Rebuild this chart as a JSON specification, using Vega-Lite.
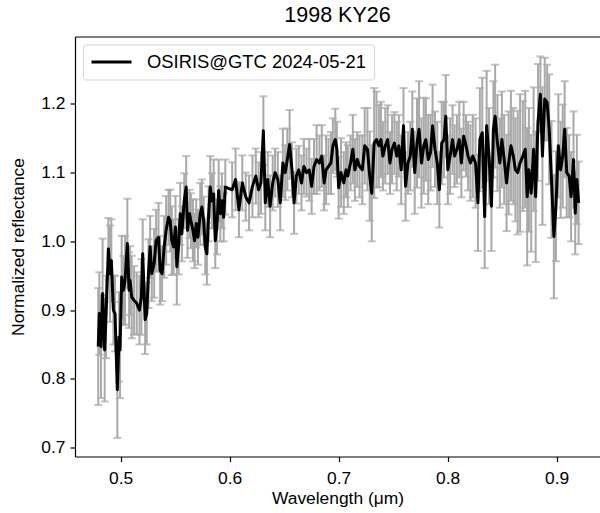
{
  "$schema": "https://vega.github.io/schema/vega-lite/v6.json",
  "width": 525,
  "height": 420,
  "autosize": {"type": "none"},
  "padding": {"left": 75, "top": 36.5, "right": 0, "bottom": 56.5},
  "title": {"text": "1998 KY26", "fontSize": 21.5, "fontWeight": "normal", "color": "black", "font": "Liberation Sans", "offset": 10, "anchor": "middle"},
  "data": {"values": [
    {"w":0.4794,"r":0.847,"e":0.085},{"w":0.4804,"r":0.895,"e":0.06},{"w":0.4819,"r":0.847,"e":0.075},{"w":0.4834,"r":0.924,"e":0.08},
    {"w":0.4853,"r":0.842,"e":0.075},{"w":0.4865,"r":0.890,"e":0.06},{"w":0.4887,"r":0.989,"e":0.045},{"w":0.4902,"r":0.953,"e":0.07},
    {"w":0.4914,"r":0.972,"e":0.06},{"w":0.4933,"r":0.900,"e":0.05},{"w":0.4948,"r":0.895,"e":0.055},{"w":0.4969,"r":0.784,"e":0.07},
    {"w":0.4985,"r":0.861,"e":0.065},{"w":0.4994,"r":0.842,"e":0.07},{"w":0.5009,"r":0.948,"e":0.06},{"w":0.5025,"r":0.929,"e":0.05},
    {"w":0.5040,"r":0.943,"e":0.065},{"w":0.5061,"r":0.997,"e":0.065},{"w":0.5077,"r":0.929,"e":0.055},{"w":0.5086,"r":0.943,"e":0.05},
    {"w":0.5101,"r":0.919,"e":0.06},{"w":0.5123,"r":0.914,"e":0.05},{"w":0.5147,"r":0.910,"e":0.045},{"w":0.5172,"r":0.900,"e":0.05},
    {"w":0.5190,"r":0.919,"e":0.055},{"w":0.5202,"r":0.982,"e":0.05},{"w":0.5224,"r":0.886,"e":0.05},{"w":0.5239,"r":0.895,"e":0.045},
    {"w":0.5255,"r":0.953,"e":0.05},{"w":0.5270,"r":0.992,"e":0.045},{"w":0.5285,"r":0.953,"e":0.04},{"w":0.5307,"r":0.968,"e":0.05},
    {"w":0.5325,"r":1.001,"e":0.045},{"w":0.5347,"r":1.006,"e":0.05},{"w":0.5362,"r":0.958,"e":0.05},{"w":0.5380,"r":0.953,"e":0.04},
    {"w":0.5399,"r":0.992,"e":0.045},{"w":0.5417,"r":1.016,"e":0.05},{"w":0.5439,"r":1.035,"e":0.04},{"w":0.5454,"r":1.030,"e":0.045},
    {"w":0.5469,"r":1.001,"e":0.05},{"w":0.5485,"r":0.992,"e":0.04},{"w":0.5503,"r":1.021,"e":0.045},{"w":0.5515,"r":0.963,"e":0.055},
    {"w":0.5531,"r":0.992,"e":0.04},{"w":0.5546,"r":1.040,"e":0.045},{"w":0.5561,"r":1.011,"e":0.04},{"w":0.5583,"r":1.059,"e":0.04},
    {"w":0.5601,"r":1.079,"e":0.045},{"w":0.5613,"r":1.016,"e":0.04},{"w":0.5632,"r":1.040,"e":0.035},{"w":0.5644,"r":1.030,"e":0.04},
    {"w":0.5663,"r":1.016,"e":0.045},{"w":0.5678,"r":1.001,"e":0.04},{"w":0.5693,"r":1.026,"e":0.035},{"w":0.5709,"r":1.006,"e":0.04},
    {"w":0.5730,"r":1.040,"e":0.045},{"w":0.5745,"r":1.050,"e":0.04},{"w":0.5761,"r":1.030,"e":0.035},{"w":0.5776,"r":0.992,"e":0.04},
    {"w":0.5791,"r":0.982,"e":0.045},{"w":0.5807,"r":1.040,"e":0.04},{"w":0.5822,"r":1.079,"e":0.045},{"w":0.5837,"r":1.059,"e":0.04},
    {"w":0.5853,"r":1.069,"e":0.05},{"w":0.5868,"r":1.001,"e":0.04},{"w":0.5883,"r":1.021,"e":0.04},{"w":0.5899,"r":1.074,"e":0.045},
    {"w":0.5914,"r":1.040,"e":0.04},{"w":0.5929,"r":1.059,"e":0.04},{"w":0.5945,"r":1.035,"e":0.035},{"w":0.5960,"r":1.079,"e":0.04},
    {"w":0.6023,"r":1.075,"e":0.04},{"w":0.6054,"r":1.090,"e":0.045},{"w":0.6085,"r":1.046,"e":0.04},{"w":0.6116,"r":1.085,"e":0.04},
    {"w":0.6147,"r":1.065,"e":0.035},{"w":0.6178,"r":1.056,"e":0.04},{"w":0.6209,"r":1.080,"e":0.045},{"w":0.6240,"r":1.095,"e":0.04},
    {"w":0.6265,"r":1.075,"e":0.04},{"w":0.6287,"r":1.085,"e":0.045},{"w":0.6309,"r":1.161,"e":0.05},{"w":0.6327,"r":1.056,"e":0.04},
    {"w":0.6349,"r":1.090,"e":0.04},{"w":0.6371,"r":1.051,"e":0.045},{"w":0.6395,"r":1.085,"e":0.04},{"w":0.6417,"r":1.100,"e":0.035},
    {"w":0.6442,"r":1.090,"e":0.04},{"w":0.6464,"r":1.056,"e":0.04},{"w":0.6488,"r":1.114,"e":0.05},{"w":0.6510,"r":1.100,"e":0.04},
    {"w":0.6529,"r":1.119,"e":0.045},{"w":0.6550,"r":1.141,"e":0.05},{"w":0.6572,"r":1.104,"e":0.04},{"w":0.6591,"r":1.056,"e":0.045},
    {"w":0.6612,"r":1.095,"e":0.04},{"w":0.6634,"r":1.104,"e":0.035},{"w":0.6659,"r":1.085,"e":0.04},{"w":0.6681,"r":1.109,"e":0.04},
    {"w":0.6705,"r":1.100,"e":0.035},{"w":0.6730,"r":1.104,"e":0.045},{"w":0.6752,"r":1.080,"e":0.04},{"w":0.6774,"r":1.109,"e":0.04},
    {"w":0.6798,"r":1.119,"e":0.05},{"w":0.6823,"r":1.114,"e":0.04},{"w":0.6845,"r":1.124,"e":0.045},{"w":0.6867,"r":1.085,"e":0.04},
    {"w":0.6885,"r":1.104,"e":0.05},{"w":0.6907,"r":1.109,"e":0.04},{"w":0.6929,"r":1.114,"e":0.045},{"w":0.6947,"r":1.139,"e":0.04},
    {"w":0.6969,"r":1.148,"e":0.045},{"w":0.6984,"r":1.134,"e":0.04},{"w":0.7000,"r":1.078,"e":0.045},{"w":0.7022,"r":1.100,"e":0.05},
    {"w":0.7047,"r":1.085,"e":0.045},{"w":0.7068,"r":1.104,"e":0.04},{"w":0.7084,"r":1.095,"e":0.045},{"w":0.7109,"r":1.114,"e":0.04},
    {"w":0.7130,"r":1.134,"e":0.05},{"w":0.7149,"r":1.104,"e":0.045},{"w":0.7171,"r":1.119,"e":0.04},{"w":0.7192,"r":1.109,"e":0.045},
    {"w":0.7217,"r":1.104,"e":0.05},{"w":0.7239,"r":1.139,"e":0.055},{"w":0.7264,"r":1.134,"e":0.06},{"w":0.7285,"r":1.095,"e":0.065},
    {"w":0.7304,"r":1.070,"e":0.07},{"w":0.7326,"r":1.143,"e":0.08},{"w":0.7347,"r":1.148,"e":0.07},{"w":0.7369,"r":1.139,"e":0.06},
    {"w":0.7388,"r":1.148,"e":0.055},{"w":0.7406,"r":1.124,"e":0.05},{"w":0.7428,"r":1.139,"e":0.055},{"w":0.7450,"r":1.148,"e":0.05},
    {"w":0.7471,"r":1.114,"e":0.045},{"w":0.7490,"r":1.134,"e":0.05},{"w":0.7512,"r":1.143,"e":0.045},{"w":0.7533,"r":1.124,"e":0.05},
    {"w":0.7552,"r":1.139,"e":0.045},{"w":0.7574,"r":1.104,"e":0.05},{"w":0.7595,"r":1.168,"e":0.055},{"w":0.7614,"r":1.080,"e":0.05},
    {"w":0.7636,"r":1.114,"e":0.045},{"w":0.7657,"r":1.124,"e":0.05},{"w":0.7676,"r":1.163,"e":0.055},{"w":0.7698,"r":1.100,"e":0.06},
    {"w":0.7719,"r":1.143,"e":0.065},{"w":0.7738,"r":1.163,"e":0.07},{"w":0.7760,"r":1.114,"e":0.065},{"w":0.7781,"r":1.139,"e":0.07},
    {"w":0.7800,"r":1.148,"e":0.06},{"w":0.7822,"r":1.119,"e":0.065},{"w":0.7843,"r":1.129,"e":0.055},{"w":0.7862,"r":1.168,"e":0.06},
    {"w":0.7884,"r":1.134,"e":0.055},{"w":0.7905,"r":1.114,"e":0.06},{"w":0.7924,"r":1.075,"e":0.055},{"w":0.7946,"r":1.143,"e":0.06},
    {"w":0.7967,"r":1.148,"e":0.055},{"w":0.7983,"r":1.182,"e":0.06},{"w":0.8002,"r":1.104,"e":0.05},{"w":0.8023,"r":1.124,"e":0.055},
    {"w":0.8045,"r":1.148,"e":0.05},{"w":0.8064,"r":1.124,"e":0.045},{"w":0.8085,"r":1.134,"e":0.05},{"w":0.8107,"r":1.148,"e":0.055},
    {"w":0.8126,"r":1.114,"e":0.05},{"w":0.8147,"r":1.153,"e":0.05},{"w":0.8169,"r":1.139,"e":0.045},{"w":0.8188,"r":1.124,"e":0.05},
    {"w":0.8209,"r":1.114,"e":0.055},{"w":0.8231,"r":1.124,"e":0.06},{"w":0.8256,"r":1.114,"e":0.065},{"w":0.8278,"r":1.056,"e":0.07},
    {"w":0.8296,"r":1.148,"e":0.075},{"w":0.8318,"r":1.158,"e":0.08},{"w":0.8340,"r":1.036,"e":0.075},{"w":0.8358,"r":1.168,"e":0.08},
    {"w":0.8380,"r":1.124,"e":0.07},{"w":0.8402,"r":1.051,"e":0.065},{"w":0.8420,"r":1.163,"e":0.07},{"w":0.8436,"r":1.182,"e":0.075},
    {"w":0.8457,"r":1.143,"e":0.07},{"w":0.8479,"r":1.114,"e":0.065},{"w":0.8498,"r":1.148,"e":0.07},{"w":0.8519,"r":1.119,"e":0.065},
    {"w":0.8541,"r":1.085,"e":0.07},{"w":0.8560,"r":1.114,"e":0.075},{"w":0.8581,"r":1.139,"e":0.08},{"w":0.8603,"r":1.124,"e":0.07},
    {"w":0.8622,"r":1.104,"e":0.075},{"w":0.8643,"r":1.100,"e":0.09},{"w":0.8665,"r":1.114,"e":0.1},{"w":0.8690,"r":1.124,"e":0.08},
    {"w":0.8712,"r":1.134,"e":0.085},{"w":0.8730,"r":1.065,"e":0.1},{"w":0.8746,"r":1.104,"e":0.09},{"w":0.8767,"r":1.070,"e":0.085},
    {"w":0.8789,"r":1.134,"e":0.09},{"w":0.8808,"r":1.065,"e":0.095},{"w":0.8829,"r":1.173,"e":0.085},{"w":0.8851,"r":1.214,"e":0.055},
    {"w":0.8870,"r":1.124,"e":0.1},{"w":0.8891,"r":1.207,"e":0.06},{"w":0.8913,"r":1.202,"e":0.055},{"w":0.8932,"r":1.163,"e":0.08},
    {"w":0.8953,"r":1.090,"e":0.085},{"w":0.8975,"r":1.007,"e":0.09},{"w":0.8994,"r":1.051,"e":0.08},{"w":0.9016,"r":1.139,"e":0.075},
    {"w":0.9037,"r":1.104,"e":0.07},{"w":0.9056,"r":1.124,"e":0.075},{"w":0.9074,"r":1.163,"e":0.07},{"w":0.9093,"r":1.100,"e":0.065},
    {"w":0.9115,"r":1.095,"e":0.06},{"w":0.9133,"r":1.065,"e":0.065},{"w":0.9155,"r":1.119,"e":0.07},{"w":0.9171,"r":1.041,"e":0.06},
    {"w":0.9186,"r":1.090,"e":0.065},{"w":0.9202,"r":1.056,"e":0.06}
  ]},
  "layer": [
    {
      "mark": {"type": "errorbar", "ticks": {"size": 8, "thickness": 2, "color": "#a9a9a9"}, "rule": {"strokeWidth": 2, "color": "#a9a9a9"}},
      "encoding": {
        "x": {"field": "w", "type": "quantitative", "scale": {"domain": [0.45807, 0.93982], "nice": false, "zero": false},
              "axis": {"orient": "bottom", "title": "Wavelength (μm)", "values": [0.5, 0.6, 0.7, 0.8, 0.9], "format": ".1f", "labelPadding": 8, "titlePadding": 3}},
        "y": {"field": "r", "type": "quantitative", "scale": {"domain": [0.687, 1.298], "nice": false, "zero": false},
              "axis": {"title": "Normalized reflectance", "values": [0.7, 0.8, 0.9, 1.0, 1.1, 1.2], "format": ".1f", "labelPadding": 5, "titlePadding": 13}},
        "yError": {"field": "e"}
      }
    },
    {
      "mark": {"type": "line", "strokeWidth": 3, "strokeJoin": "round"},
      "encoding": {
        "x": {"field": "w", "type": "quantitative", "axis": {"orient": "top", "labels": false, "ticks": false, "title": null}},
        "y": {"field": "r", "type": "quantitative"},
        "color": {"datum": "OSIRIS@GTC 2024-05-21", "type": "nominal", "scale": {"range": ["black"]}, "legend": {"title": null, "orient": "top-left", "offset": 8}}
      }
    }
  ],
  "resolve": {"axis": {"x": "independent"}},
  "config": {
    "font": "Liberation Sans",
    "view": {"stroke": null},
    "axis": {
      "grid": false, "domainColor": "black", "domainWidth": 1.2, "tickColor": "black", "tickWidth": 1.2, "tickSize": 5,
      "labelFont": "Liberation Sans", "labelFontSize": 17.4, "labelColor": "black",
      "titleFont": "Liberation Sans", "titleFontSize": 17.4, "titleFontWeight": "normal", "titleColor": "black"
    },
    "legend": {
      "padding": 7, "strokeColor": "#d5d5d5", "fillColor": "white", "cornerRadius": 3,
      "symbolType": "stroke", "symbolSize": 1600, "symbolStrokeWidth": 3,
      "labelFont": "Liberation Sans", "labelFontSize": 18.4, "labelColor": "black", "labelOffset": 14, "labelLimit": 400, "clipHeight": 21
    }
  }
}
